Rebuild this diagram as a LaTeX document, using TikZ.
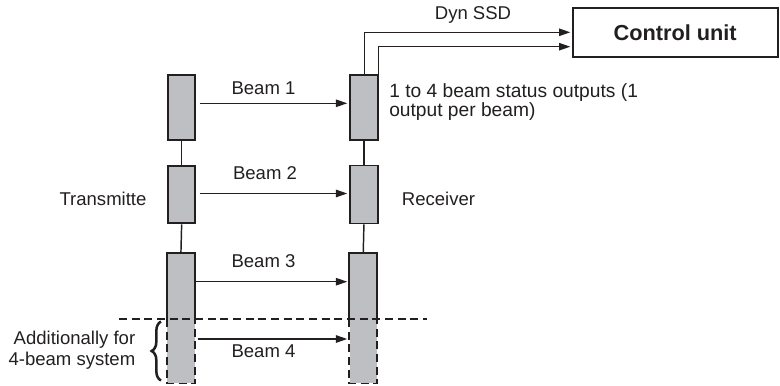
\documentclass[tikz,border=0pt]{standalone}
\usepackage{fontspec}
\setmainfont{Liberation Sans}
\usetikzlibrary{arrows.meta,decorations.pathreplacing}
\definecolor{boxgray}{RGB}{190,191,194}
\definecolor{ink}{RGB}{35,31,32}
\begin{document}
\begin{tikzpicture}[x=0.75pt,y=-0.75pt,
  box/.style={draw=ink,line width=1.45pt,fill=boxgray,rectangle,anchor=north west,
    minimum width=20.5pt,inner sep=0pt},
  fillbox/.style={draw=none,fill=boxgray,rectangle,anchor=north west,
    minimum width=20.5pt,inner sep=0pt},
  arr/.style={draw=ink,line width=1.1pt,-{Triangle[length=8.5pt,width=5.5pt]}},
  link/.style={draw=ink,line width=1.1pt},
  lbl/.style={font=\fontsize{13.9pt}{16pt}\selectfont,text=ink,inner sep=0pt},
  dsh/.style={draw=ink,line width=1.3pt,dash pattern=on 6pt off 3.5pt}]
\useasboundingbox (0,0) rectangle (780,385);

% transmitter
\node[box,minimum height=48.7pt] (t1) at (167,74) {};
\node[box,minimum height=43.1pt] (t2) at (167,165) {};
\node[fillbox,minimum height=97.7pt] (t3) at (167,252.7) {};
% receiver
\node[box,minimum height=48.7pt] (r1) at (349.3,73.7) {};
\node[box,minimum height=43.5pt] (r2) at (349.3,164.5) {};
\node[fillbox,minimum height=97.7pt] (r3) at (349.3,252.7) {};

% borders of box 3 (solid above, dashed below)
\coordinate (tcut) at (0,319);
\draw[draw=ink,line width=1.45pt] (t3.west |- tcut) -- (t3.north west) -- (t3.north east) -- (t3.east |- tcut);
\draw[dsh] (t3.west |- tcut) -- (t3.south west) -- (t3.south east) -- (t3.east |- tcut);
\draw[draw=ink,line width=1.45pt] (r3.west |- tcut) -- (r3.north west) -- (r3.north east) -- (r3.east |- tcut);
\draw[dsh] (r3.west |- tcut) -- (r3.south west) -- (r3.south east) -- (r3.east |- tcut);

% links
\draw[link] (t1.south) -- (t2.north);
\draw[link] (t2.south) -- (t3.north);
\draw[link] (r1.south) -- (r2.north);
\draw[link] (r2.south) -- (r3.north);

% beams
\coordinate (y1) at (0,103.3);
\coordinate (y2) at (0,193.5);
\coordinate (y3) at (0,281.7);
\coordinate (y4) at (0,339);
\draw[arr,shorten <=2.5pt,shorten >=1.5pt] (t1.east |- y1) -- (r1.west |- y1);
\draw[arr,shorten <=2.5pt,shorten >=1.5pt] (t2.east |- y2) -- (r2.west |- y2);
\draw[arr,shorten <=0.5pt,shorten >=1.5pt] (t3.east |- y3) -- (r3.west |- y3);
\draw[arr,shorten <=2pt,shorten >=1.5pt] (t3.east |- y4) -- (r3.west |- y4);
\node[lbl] (b1) at (263.5,88.3) {Beam 1};
\node[lbl] (b2) at (265,172.7) {Beam 2};
\node[lbl] (b3) at (263.5,260.7) {Beam 3};
\node[lbl] (b4) at (263.5,351.7) {Beam 4};

% dashed separator
\coordinate (dl) at (119,319);
\coordinate (dr) at (427,319);
\draw[dsh] (dl) -- (dr);

% control unit
\node[draw=ink,line width=1.45pt,rectangle,anchor=north west,minimum width=153.7pt,
  minimum height=36.3pt,inner sep=0pt] (cu) at (571.7,7.3) {};
\node[font=\fontsize{16.3pt}{19pt}\selectfont\bfseries,text=ink] at (cu.center) {Control unit};
\coordinate (o1) at (0,32.3);
\coordinate (o2) at (0,46.7);
\draw[arr,shorten >=1pt] ([xshift=0.6pt]r1.north) |- (cu.west |- o1);
\draw[arr,shorten >=1pt] ([xshift=-0.2pt]r1.north east) |- (cu.west |- o2);
\node[lbl] (dyn) at (473,15) {Dyn SSD};
\node[lbl,anchor=west,align=left,font=\fontsize{14.4pt}{14pt}\selectfont] (stat) at (389,102.3)
  {1 to 4 beam status outputs (1\\output per beam)};

% side labels
\node[lbl] (tx) at (103,199) {Transmitte};
\node[lbl,anchor=west] (rx) at (401.7,199) {Receiver};
\node[lbl,anchor=east,align=right,font=\fontsize{13.9pt}{15.5pt}\selectfont] (add) at (135.5,350.5)
  {Additionally for\\4-beam system};
\coordinate (bb) at (161,380.5);
\coordinate (bt) at (161,321.5);
\draw[draw=ink,line width=1.9pt,decorate,decoration={brace,amplitude=7pt}] (bb) -- (bt);
\end{tikzpicture}
\end{document}
